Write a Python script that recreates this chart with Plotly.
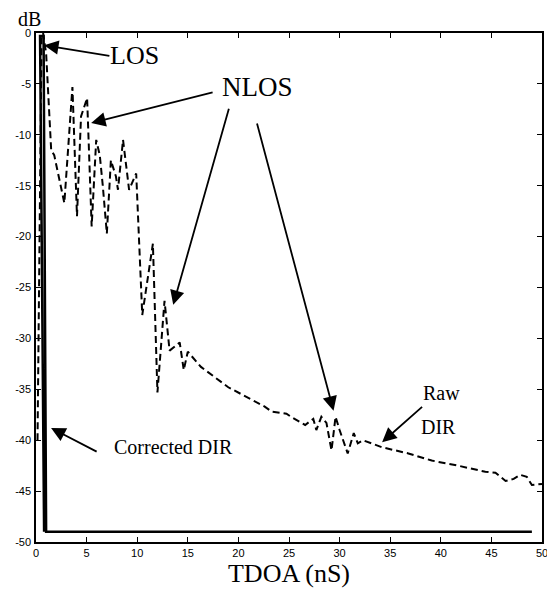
import plotly.graph_objects as go

# Raw DIR (dashed)
raw_x = [0.15, 0.55, 0.7, 1.0, 1.5, 1.8, 2.8, 3.6, 4.05, 4.45, 5.05, 5.5, 5.95, 6.3, 6.6, 7.0,
         7.4, 7.9, 8.1, 8.6, 9.2, 9.9, 10.5, 11.55, 12.0, 12.7, 13.2, 14.2, 14.6, 15.0, 16.3,
         19.0, 22.6, 23.3, 24.75, 25.2, 26.6, 27.4, 27.7, 28.2, 28.7, 29.2, 29.6, 30.0, 30.8,
         31.4, 31.8, 32.3, 34.2, 36.8, 39.1, 41.7, 44.4, 45.4, 46.4, 47.2, 47.85, 48.5, 49.0, 50.0]
raw_y = [-40.0, -0.5, 0.0, -2.0, -11.5, -12.0, -16.7, -5.3, -18.0, -8.2, -6.4, -19.0, -10.5, -12.0,
         -15.0, -19.7, -12.5, -14.1, -15.4, -10.5, -15.4, -13.8, -27.7, -20.7, -35.3, -26.3,
         -31.2, -30.4, -33.1, -31.3, -32.8, -34.8, -36.7, -37.2, -37.4, -37.7, -38.5, -37.9,
         -39.0, -37.7, -38.3, -41.0, -37.7, -39.0, -41.3, -39.3, -40.3, -40.0, -40.7, -41.3,
         -42.0, -42.5, -43.1, -43.2, -44.0, -43.8, -43.4, -43.6, -44.4, -44.3]

# Corrected DIR (solid)
cor_x = [0.8, 0.4, 0.75, 1.0, 49.0]
cor_y = [-49.0, -0.3, -0.3, -49.0, -49.0]

x_ticks = [0, 5, 10, 15, 20, 25, 30, 35, 40, 45, 50]
y_ticks = [0, -5, -10, -15, -20, -25, -30, -35, -40, -45, -50]

# Text labels: (text, x, y, size)
labels = [
    ("LOS", 9.7, -2.2, 26),
    ("NLOS", 21.9, -5.3, 27),
    ("Corrected DIR", 13.6, -40.7, 20),
    ("Raw", 40.1, -35.4, 20),
    ("DIR", 39.8, -38.7, 20),
]
# Arrows: (tail_x, tail_y, head_x, head_y)
arrows = [
    (7.4, -2.26, 0.8, -1.2),
    (17.6, -5.8, 5.45, -8.85),
    (19.1, -7.3, 13.56, -26.7),
    (21.8, -8.75, 29.4, -37.1),
    (6.14, -41.2, 1.49, -38.8),
    (38.3, -36.6, 34.2, -40.2),
]

fig = go.Figure()
fig.add_trace(go.Scatter(x=raw_x, y=raw_y, mode="lines",
                         line=dict(color="black", width=2, dash="7px,4px"),
                         showlegend=False))
fig.add_trace(go.Scatter(x=cor_x, y=cor_y, mode="lines",
                         line=dict(color="black", width=2.5),
                         showlegend=False))

serif = "Liberation Serif"
for t, x, y, s in labels:
    fig.add_annotation(x=x, y=y, text=t, showarrow=False, xref="x", yref="y",
                       font=dict(family=serif, size=s, color="black"))
for tx, ty, hx, hy in arrows:
    fig.add_annotation(x=hx, y=hy, ax=tx, ay=ty, xref="x", yref="y", axref="x", ayref="y",
                       text="", showarrow=True, arrowhead=2, arrowsize=1.6,
                       arrowwidth=1.8, arrowcolor="black", standoff=0)

fig.add_annotation(x=0, y=1, xref="paper", yref="paper", xanchor="center", yanchor="top",
                   text="dB", showarrow=False, xshift=-7, yshift=26, borderpad=0,
                   font=dict(family=serif, size=20, color="black"))

axis_common = dict(showline=True, linecolor="black", linewidth=1.5, mirror="ticks",
                   ticks="inside", ticklen=5, tickcolor="black", showgrid=False,
                   zeroline=False, automargin=False,
                   tickfont=dict(family="Liberation Sans", size=11, color="black"))
fig.update_xaxes(range=[0, 50], tickvals=x_ticks, ticktext=[str(v) for v in x_ticks],
                 title=dict(text="TDOA (nS)", font=dict(family=serif, size=26, color="black"),
                            standoff=4),
                 **axis_common)
fig.update_yaxes(range=[-50, 0], tickvals=y_ticks, ticktext=[str(v) for v in y_ticks],
                 ticklabelstandoff=1, **axis_common)

fig.update_layout(width=555, height=596, margin=dict(l=28, r=21, t=25, b=62),
                  plot_bgcolor="white", paper_bgcolor="white")
fig.write_html("out.html")
